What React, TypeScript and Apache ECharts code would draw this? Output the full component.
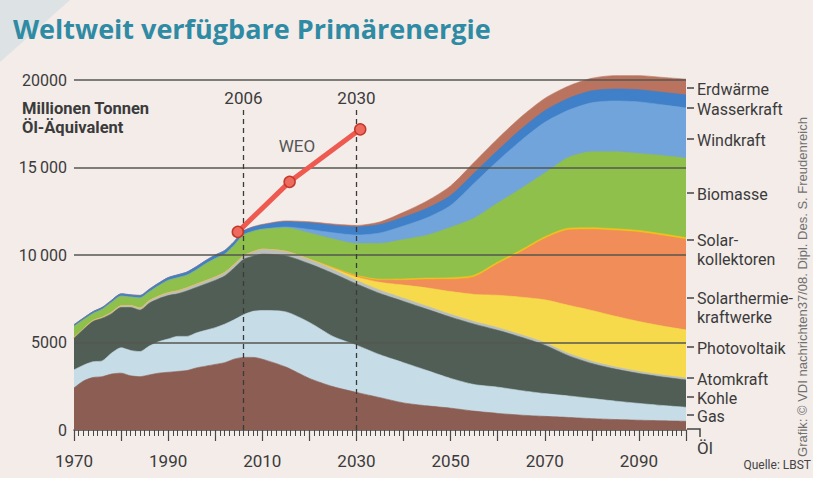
import React, { useEffect, useRef } from 'react';
import * as echarts from 'echarts';

// ---------- data (million tonnes oil equivalent) ----------
const years = [
  1970, 1972, 1974, 1976, 1978, 1980, 1982, 1984, 1986, 1988, 1990, 1992, 1994, 1996, 1998, 2000, 2002, 2004, 2006,
  2008, 2010,
  2015, 2020, 2025, 2030, 2035, 2040, 2045, 2050, 2055, 2060, 2065, 2070, 2075, 2080, 2085, 2090, 2095, 2100,
];

const oel = [
  2400, 2800, 3000, 3050, 3200, 3250, 3100, 3050, 3150, 3250, 3300, 3350, 3400, 3550, 3650, 3750, 3850, 4050, 4150,
  4150, 4050,
  3600, 2950, 2480, 2150, 1850, 1550, 1380, 1250, 1080, 950, 850, 780, 720, 650, 600, 560, 530, 500,
];
const gas = [
  1040, 900, 900, 900, 1200, 1450, 1450, 1430, 1650, 1800, 1900, 2000, 1950, 2000, 2050, 2100, 2200, 2250, 2430,
  2630, 2780,
  3150, 3200, 2870, 2700, 2450, 2300, 2020, 1700, 1520, 1500, 1400, 1300, 1230, 1150, 1050, 960, 870, 800,
];
const kohle = [
  1810, 2050, 2300, 2430, 2250, 2300, 2450, 2370, 2450, 2450, 2480, 2430, 2600, 2600, 2650, 2700, 2750, 2950, 3160,
  3150, 3220,
  3200, 3350, 3600, 3500, 3500, 3500, 3500, 3500, 3450, 3250, 3050, 2770, 2300, 2000, 1830, 1710, 1630, 1560,
];
const atomkraft = [
  30, 40, 50, 60, 80, 100, 110, 120, 140, 150, 160, 170, 170, 180, 180, 190, 200, 200, 210,
  250, 280,
  260, 240, 220, 200, 190, 180, 170, 160, 150, 150, 140, 140, 130, 130, 120, 120, 110, 110,
];
const photovoltaik = [
  0, 0, 0, 0, 0, 0, 0, 0, 0, 0, 0, 0, 0, 0, 0, 0, 0, 0, 0,
  0, 0,
  0, 20, 80, 200, 450, 750, 1050, 1300, 1550, 1850, 2150, 2450, 2750, 2900, 2900, 2850, 2800, 2750,
];
const solarthermie = [
  0, 0, 0, 0, 0, 0, 0, 0, 0, 0, 0, 0, 0, 0, 0, 0, 0, 0, 0,
  0, 0,
  0, 0, 10, 40, 120, 280, 480, 700, 1000, 1800, 2600, 3500, 4300, 4630, 4900, 5100, 5170, 5170,
];
const kollektoren = [
  0, 0, 0, 0, 0, 0, 0, 0, 0, 0, 0, 0, 0, 0, 0, 0, 0, 0, 0,
  0, 0,
  0, 10, 30, 50, 60, 70, 80, 90, 100, 100, 100, 100, 100, 100, 100, 100, 100, 100,
];
const biomasse = [
  640, 510, 400, 460, 570, 550, 490, 580, 510, 600, 710, 750, 730, 820, 970, 1060, 1050, 1100, 1200,
  1170, 1140,
  1340, 1490, 1630, 1820, 2040, 2250, 2450, 2880, 3250, 3370, 3510, 3640, 4040, 4340, 4400, 4400, 4470, 4540,
];
const windkraft = [
  0, 0, 0, 0, 0, 0, 0, 0, 0, 0, 0, 0, 0, 0, 0, 0, 0, 0, 0,
  0, 0,
  50, 200, 350, 480, 600, 780, 1000, 1250, 2000, 2400, 2750, 2900, 2700, 2800, 2900, 2950, 2900, 2870,
];
const wasserkraft = [
  100, 100, 110, 110, 120, 130, 130, 140, 150, 150, 160, 170, 180, 190, 190, 200, 210, 210, 220,
  240, 250,
  300, 380, 430, 470, 480, 500, 540, 570, 580, 600, 650, 670, 680, 680, 690, 700, 720, 750,
];
const erdwaerme = [
  0, 0, 0, 0, 0, 0, 0, 0, 0, 0, 0, 0, 0, 0, 0, 0, 0, 0, 0,
  20, 30,
  50, 60, 70, 80, 150, 280, 420, 550, 620, 680, 700, 700, 700, 720, 760, 800, 850, 900,
];

// WEO projection points
const weoYears = [2004.8, 2015.8, 2030.8];
const weoValues = [11320, 14180, 17180];

const markYears = [2006, 2030];
const gridValues = [5000, 10000, 15000, 20000];
const yTickLabels: Record<number, string> = {
  0: '0',
  5000: '5000',
  10000: '10\u2009000',
  15000: '15\u2009000',
  20000: '20000',
};

const layerNames = [
  'Öl', 'Gas', 'Kohle', 'Atomkraft', 'Photovoltaik', 'Solarthermiekraftwerke',
  'Solarkollektoren', 'Biomasse', 'Windkraft', 'Wasserkraft', 'Erdwärme',
];
const layerData = [
  oel, gas, kohle, atomkraft, photovoltaik, solarthermie,
  kollektoren, biomasse, windkraft, wasserkraft, erdwaerme,
];
const layerColors = [
  '#8c5d52', '#c6dce6', '#515e56', '#b9bfbd', '#f6da4c', '#f08d58',
  '#f3c21a', '#8fc04c', '#72a4dc', '#3f80c8', '#b9735f',
];

// right-hand labels (text, y of tick)
const rightLabels: { t: string; y: number }[] = [
  { t: 'Erdwärme', y: 88 },
  { t: 'Wasserkraft', y: 108 },
  { t: 'Windkraft', y: 139 },
  { t: 'Biomasse', y: 193 },
  { t: 'Solar-\nkollektoren', y: 240 },
  { t: 'Solarthermie-\nkraftwerke', y: 298 },
  { t: 'Photovoltaik', y: 347 },
  { t: 'Atomkraft', y: 378 },
  { t: 'Kohle', y: 397 },
  { t: 'Gas', y: 415 },
];

const FONT = "Roboto, 'Liberation Sans', sans-serif";
const TEXT = '#3b3b3b';

export default function App() {
  const ref = useRef<HTMLDivElement>(null);

  useEffect(() => {
    document.body.style.margin = '0';
    document.body.style.background = '#f3ece9';
    const chart = echarts.init(ref.current!, null, { renderer: 'svg' });

    // cumulative tops of the stacked layers
    const cumulative: number[][] = [];
    layerData.forEach((arr, k) => {
      cumulative.push(arr.map((v, i) => v + (k > 0 ? cumulative[k - 1][i] : 0)));
    });

    // draw from the top layer down, each area filled to zero, lower layers painted over
    const areaSeries = layerNames
      .map((name, k) => ({
        type: 'line',
        name,
        data: years.map((y, i) => [y, cumulative[k][i]]),
        smooth: 0.25,
        symbol: 'none',
        showSymbol: false,
        lineStyle: { width: 0.6, color: layerColors[k] },
        areaStyle: { color: layerColors[k], opacity: 1, origin: 'start' },
        clip: false,
        silent: true,
        z: 2,
      }))
      .reverse();

    const graphic: any[] = [
      {
        type: 'polygon',
        shape: { points: [[0, 0], [70, 0], [0, 62]] },
        style: { fill: '#dde3e4' },
        silent: true,
      },
      {
        type: 'text',
        x: 13,
        y: 28,
        style: {
          text: 'Weltweit verfügbare Primärenergie',
          font: "bold 27px 'Open Sans', sans-serif",
          fill: '#2f8aa3',
          verticalAlign: 'middle',
        },
      },
      {
        type: 'text',
        x: 22,
        y: 108,
        style: {
          text: 'Millionen Tonnen',
          font: `bold 16.5px ${FONT}`,
          fill: TEXT,
          verticalAlign: 'middle',
        },
      },
      {
        type: 'text',
        x: 22,
        y: 127,
        style: {
          text: 'Öl-Äquivalent',
          font: `bold 16.5px ${FONT}`,
          fill: TEXT,
          verticalAlign: 'middle',
        },
      },
      {
        type: 'text',
        x: 297,
        y: 146,
        z: 10,
        style: {
          text: 'WEO',
          font: `17px ${FONT}`,
          fill: '#555',
          align: 'center',
          verticalAlign: 'middle',
        },
      },
      {
        type: 'text',
        x: 811,
        y: 465,
        style: {
          text: 'Quelle: LBST',
          font: `12px ${FONT}`,
          fill: '#444',
          align: 'right',
          verticalAlign: 'middle',
        },
      },
      {
        type: 'text',
        x: 802,
        y: 287,
        rotation: Math.PI / 2,
        style: {
          text: 'Grafik: © VDI nachrichten37/08. Dipl. Des. S. Freudenreich',
          font: "13px 'Liberation Sans', sans-serif",
          fill: '#707070',
          align: 'center',
          verticalAlign: 'middle',
        },
      },
      {
        type: 'polyline',
        shape: { points: [[687, 429], [700, 429], [700, 437]] },
        style: { stroke: '#444', lineWidth: 1.5, fill: 'none' },
      },
      {
        type: 'text',
        x: 697,
        y: 448,
        style: { text: 'Öl', font: `17px ${FONT}`, fill: TEXT, verticalAlign: 'middle' },
      },
    ];
    rightLabels.forEach((l) => {
      graphic.push({
        type: 'line',
        shape: { x1: 687, y1: l.y, x2: 694, y2: l.y },
        style: { stroke: '#444', lineWidth: 1.5 },
      });
      const twoLines = l.t.indexOf('\n') >= 0;
      graphic.push({
        type: 'text',
        x: 697,
        y: twoLines ? l.y - 9 : l.y + 1,
        style: {
          text: l.t,
          font: `16px ${FONT}`,
          fill: TEXT,
          lineHeight: 19,
          verticalAlign: twoLines ? 'top' : 'middle',
        },
      });
    });

    const option: any = {
      animation: false,
      backgroundColor: '#f3ece9',
      textStyle: { fontFamily: FONT },
      grid: { left: 74, right: 127, top: 80, bottom: 48, containLabel: false },
      xAxis: {
        type: 'value',
        min: 1970,
        max: 2100,
        interval: 10,
        axisLine: { show: true, lineStyle: { color: '#474747', width: 1.5 } },
        axisTick: { show: true, length: 11, lineStyle: { color: '#474747', width: 1.2 } },
        minorTick: { show: true, splitNumber: 10, length: 6, lineStyle: { color: '#474747', width: 1 } },
        splitLine: { show: false },
        axisLabel: {
          formatter: (v: number) => ((v - 1970) % 20 === 0 && v < 2100 ? String(v) : ''),
          fontSize: 17,
          fontFamily: FONT,
          color: TEXT,
          margin: 22,
        },
      },
      yAxis: {
        type: 'value',
        min: 0,
        max: 20000,
        interval: 5000,
        axisLine: { show: false },
        axisTick: { show: false },
        splitLine: { show: false },
        axisLabel: {
          formatter: (v: number) => yTickLabels[v] ?? '',
          fontSize: 16,
          fontFamily: FONT,
          color: TEXT,
          margin: 7,
        },
      },
      series: [
        ...areaSeries,
        {
          type: 'line',
          name: 'grid',
          data: [[1970, 0]],
          symbol: 'none',
          lineStyle: { opacity: 0 },
          silent: true,
          z: 4,
          markLine: {
            silent: true,
            symbol: ['none', 'none'],
            label: { show: false },
            lineStyle: { color: '#56574f', width: 1.5, type: 'solid' },
            data: gridValues.map((v) => ({ yAxis: v })),
          },
        },
        {
          type: 'line',
          name: 'marks',
          data: [[1970, 0]],
          symbol: 'none',
          lineStyle: { opacity: 0 },
          silent: true,
          z: 4,
          markLine: {
            silent: true,
            symbol: ['none', 'none'],
            lineStyle: { color: '#3a3a3a', width: 1.3, type: [5, 4] },
            label: {
              show: true,
              position: 'end',
              formatter: '{b}',
              fontSize: 17,
              fontFamily: FONT,
              color: TEXT,
              distance: 2,
            },
            data: markYears.map((y) => [
              { coord: [y, 0], name: String(y) },
              { coord: [y, 18400] },
            ]),
          },
        },
        {
          type: 'line',
          name: 'WEO',
          data: weoYears.map((y, i) => [y, weoValues[i]]),
          symbol: 'circle',
          symbolSize: 11,
          lineStyle: { color: '#ef5a50', width: 5 },
          itemStyle: { color: '#ef6a5e', borderColor: '#c0392b', borderWidth: 1.5 },
          clip: false,
          silent: true,
          z: 6,
        },
      ],
      graphic,
    };

    chart.setOption(option);
    return () => chart.dispose();
  }, []);

  return (
    <div
      ref={ref}
      style={{ width: 813, height: 478, position: 'absolute', left: 0, top: 0 }}
    />
  );
}
